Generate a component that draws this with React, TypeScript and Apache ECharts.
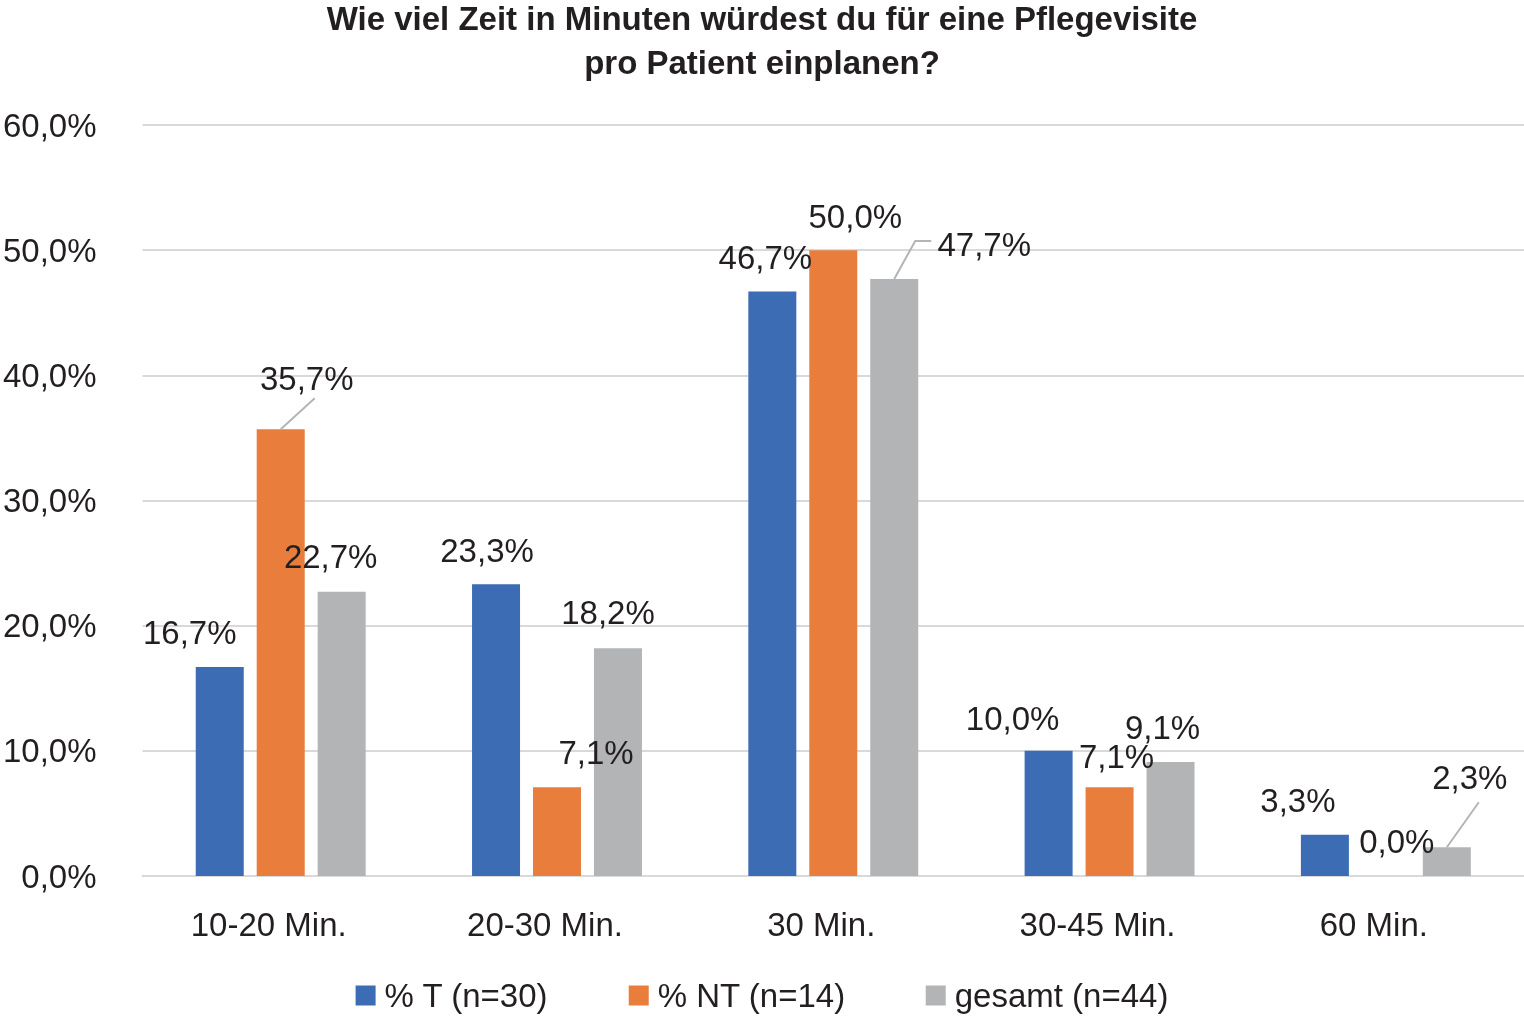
import React, { useEffect, useRef } from 'react';
import * as echarts from 'echarts';

const categories = ['10-20 Min.', '20-30 Min.', '30 Min.', '30-45 Min.', '60 Min.'];
const seriesNames = ['% T (n=30)', '% NT (n=14)', 'gesamt (n=44)'];
const valuesT = [16.7, 23.3, 46.7, 10.0, 3.3];
const valuesNT = [35.7, 7.1, 50.0, 7.1, 0.0];
const valuesGesamt = [22.7, 18.2, 47.7, 9.1, 2.3];
const yTicks = [0, 10, 20, 30, 40, 50, 60];

const colors = ['#3b6cb4', '#e97e3c', '#b3b4b6'];
const FONT = '"Liberation Sans", Arial, sans-serif';
const TEXT = '#231f20';

// label shifts (dx, dy) from the default "top" place, as Excel had them moved by hand
const labelShifts: Array<Array<[number, number]>> = [
  [[-30, -13], [-9, -12], [-7, -12], [-36, -11], [-27, -13]],
  [[26, -29], [39, -13], [22, -12], [7, -9], [11, -13]],
  [[-11, -14], [-10, -14], [90, -13], [-8, -13], [23, -48]],
];
// leader lines: [series, category, bends relative to the bar top centre]
const leaders: Array<[number, number, Array<[number, number]>]> = [
  [1, 0, [[34, -31]]],
  [2, 2, [[21, -38], [37, -38]]],
  [2, 4, [[32, -45]]],
];

const fmt = (v: number) => v.toFixed(1).replace('.', ',') + '%';

export default function App() {
  const ref = useRef<HTMLDivElement>(null);

  useEffect(() => {
    if (!ref.current) return;
    const chart = echarts.init(ref.current, undefined, { renderer: 'svg' });
    const all = [valuesT, valuesNT, valuesGesamt];

    chart.setOption({
      animation: false,
      color: colors,
      textStyle: { fontFamily: FONT, color: TEXT },
      title: {
        text: 'Wie viel Zeit in Minuten würdest du für eine Pflegevisite\npro Patient einplanen?',
        left: 'center',
        top: -9,
        textStyle: { fontFamily: FONT, fontSize: 33, fontWeight: 'bold', color: TEXT, lineHeight: 44 },
      },
      grid: { left: 140, right: 0, top: 125, bottom: 143 },
      legend: {
        bottom: 2,
        left: 'center',
        itemWidth: 20,
        itemHeight: 20,
        itemGap: 80,
        icon: 'rect',
        data: seriesNames,
        textStyle: { fontFamily: FONT, fontSize: 33, color: TEXT, padding: [0, 0, 0, 4] },
      },
      xAxis: {
        type: 'category',
        data: categories,
        axisLine: { lineStyle: { color: '#d9d9d9', width: 2 } },
        axisTick: { show: false },
        axisLabel: { fontFamily: FONT, fontSize: 33, color: TEXT, margin: 32, padding: [0, 24, 0, 0] },
      },
      yAxis: {
        type: 'value',
        min: yTicks[0],
        max: yTicks[yTicks.length - 1],
        interval: 10,
        axisLine: { show: false },
        axisTick: { show: false },
        axisLabel: { fontFamily: FONT, fontSize: 33, color: TEXT, margin: 46, formatter: fmt },
        splitLine: { lineStyle: { color: '#d9d9d9', width: 2 } },
      },
      series: all.map((vals, si) => ({
        name: seriesNames[si],
        type: 'bar',
        barWidth: 48,
        barGap: '27%',
        data: vals,
        label: {
          show: true,
          position: 'top',
          distance: 5,
          fontFamily: FONT,
          fontSize: 33,
          color: TEXT,
          formatter: (p: { value: number }) => fmt(p.value),
        },
        labelLayout: (p: { dataIndex: number }) => {
          const [dx, dy] = labelShifts[si][p.dataIndex];
          return { dx, dy };
        },
      })),
    });

    // leader lines start at the top centre of the bar, taken from the bar layout
    const model = (chart as any).getModel();
    const lines = leaders.map(([si, ci, bends]) => {
      const layout = model.getSeriesByIndex(si).getData().getItemLayout(ci);
      const cx = layout.x + layout.width / 2;
      const top = Math.min(layout.y, layout.y + layout.height);
      return {
        type: 'polyline',
        silent: true,
        z: 10,
        shape: { points: [[cx, top], ...bends.map(([bx, by]) => [cx + bx, top + by])] },
        style: { stroke: '#b3b4b6', lineWidth: 2, fill: 'none' },
      };
    });
    chart.setOption({ graphic: lines });

    return () => chart.dispose();
  }, []);

  return <div ref={ref} style={{ position: 'fixed', left: 0, top: 0, width: 1524, height: 1019 }} />;
}
